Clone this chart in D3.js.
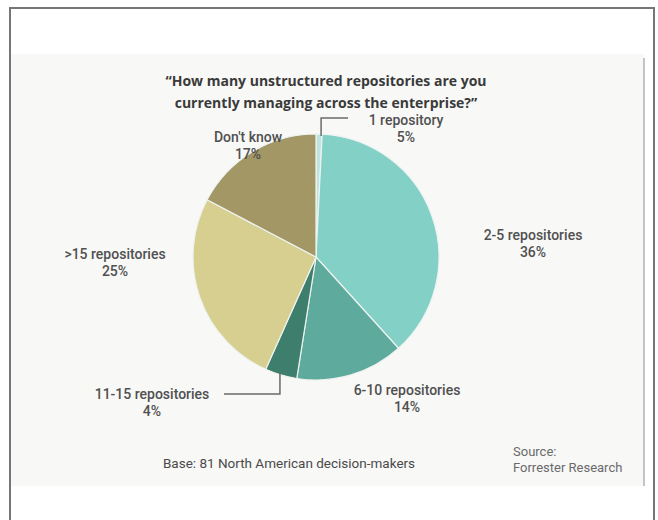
<!DOCTYPE html>
<html>
<head>
<meta charset="utf-8">
<script src="https://cdn.jsdelivr.net/npm/d3@7"></script>
<style>
  body { margin: 0; background: #fff; }
  text { font-family: Roboto, "Open Sans", sans-serif; }
</style>
</head>
<body>
<div id="chart"></div>
<script>
// categorias y valores
var categorias = ["1 repository", "2-5 repositories", "6-10 repositories", "11-15 repositories", ">15 repositories", "Don't know"];
// porcentajes impresos en la grafica
var etiquetas = ["5%", "36%", "14%", "4%", "25%", "17%"];
// tamaño de cada rebanada tal como se ve en la imagen
var rebanadas = [0.8, 37.5, 14.2, 4.2, 26, 17.3];
var colores = ["#bfe4df", "#83d0c7", "#5eab9d", "#3e7e6c", "#d7cf90", "#a39766"];

// parametros
var width = 658;
var height = 520;
var cx = 316, cy = 257, radio = 123;
var interlinea = 16.5;

// posicion de las etiquetas (centro del texto, linea base)
var posEtiquetas = [[406, 125], [533, 240], [407, 395], [152, 399], [115, 259], [248, 142]];

var svg = d3.select("#chart").append("svg")
  .attr("width", width)
  .attr("height", height);

// marco
svg.append("rect")
  .attr("x", 10).attr("y", 8)
  .attr("width", 644).attr("height", 530)
  .attr("fill", "#fff")
  .attr("stroke", "#767676")
  .attr("stroke-width", 2);

// fondo de la foto
svg.append("rect")
  .attr("x", 11).attr("y", 54)
  .attr("width", 633).attr("height", 432)
  .attr("fill", "#f8f8f7");
svg.append("line")
  .attr("x1", 644).attr("x2", 644)
  .attr("y1", 58).attr("y2", 486)
  .attr("stroke", "#c4c4c4")
  .attr("stroke-width", 2);

// titulo
var lineasTitulo = ["\u201cHow many unstructured repositories are you", "currently managing across the enterprise?\u201d"];
svg.selectAll(".titulo")
  .data(lineasTitulo).enter()
  .append("text")
  .attr("class", "titulo")
  .attr("text-anchor", "middle")
  .attr("x", 326)
  .attr("y", (d, i) => 86 + i * 22)
  .attr("fill", "#3a3a3a")
  .style("font-family", "'Open Sans', sans-serif")
  .style("font-weight", "bold")
  .style("font-size", "14px")
  .text(d => d);

/* Pie */
var pie = d3.pie().sort(null).value(d => d);
var arcos = pie(rebanadas);
var arc = d3.arc().innerRadius(0).outerRadius(radio);

var g = svg.append("g").attr("transform", `translate(${cx}, ${cy})`);

g.selectAll("path")
  .data(arcos).enter()
  .append("path")
  .attr("d", arc)
  .attr("fill", (d, i) => colores[i])
  .attr("stroke", "#eef3f0")
  .attr("stroke-width", 1.2);

// lineas guia para las rebanadas pequeñas
function puntoBorde(d) {
  var a = (d.startAngle + d.endAngle) / 2;
  return [cx + Math.sin(a) * radio, cy - Math.cos(a) * radio];
}
var p0 = puntoBorde(arcos[0]);
svg.append("polyline")
  .attr("points", [[p0[0] + 2, p0[1] + 2], [p0[0] + 2, p0[1] - 16], [p0[0] + 29, p0[1] - 16]].join(" "))
  .attr("fill", "none").attr("stroke", "#6a6a6a").attr("stroke-width", 1.5);

var p3 = puntoBorde(arcos[3]);
svg.append("polyline")
  .attr("points", [[p3[0] - 1, p3[1] - 3], [p3[0] - 1, p3[1] + 19], [p3[0] - 57, p3[1] + 19]].join(" "))
  .attr("fill", "none").attr("stroke", "#6a6a6a").attr("stroke-width", 1.5);

// etiquetas: nombre y porcentaje
var grupos = svg.append("g").selectAll("g")
  .data(categorias).enter()
  .append("g")
  .attr("fill", "#505050")
  .style("font-weight", "500")
  .style("font-size", "14px")
  .attr("text-anchor", "middle");
grupos.append("text")
  .attr("x", (d, i) => posEtiquetas[i][0])
  .attr("y", (d, i) => posEtiquetas[i][1])
  .text(d => d);
grupos.append("text")
  .attr("x", (d, i) => posEtiquetas[i][0])
  .attr("y", (d, i) => posEtiquetas[i][1] + interlinea)
  .text((d, i) => etiquetas[i]);

// notas al pie
svg.append("text")
  .attr("x", 289).attr("y", 468)
  .attr("text-anchor", "middle")
  .attr("fill", "#4a4a4a")
  .style("font-size", "13.5px")
  .text("Base: 81 North American decision-makers");

var lineasFuente = ["Source:", "Forrester Research"];
svg.selectAll(".fuente")
  .data(lineasFuente).enter()
  .append("text")
  .attr("class", "fuente")
  .attr("x", 513)
  .attr("y", (d, i) => 456 + i * 16)
  .attr("fill", "#6a6a6a")
  .style("font-size", "13px")
  .text(d => d);
</script>
</body>
</html>
